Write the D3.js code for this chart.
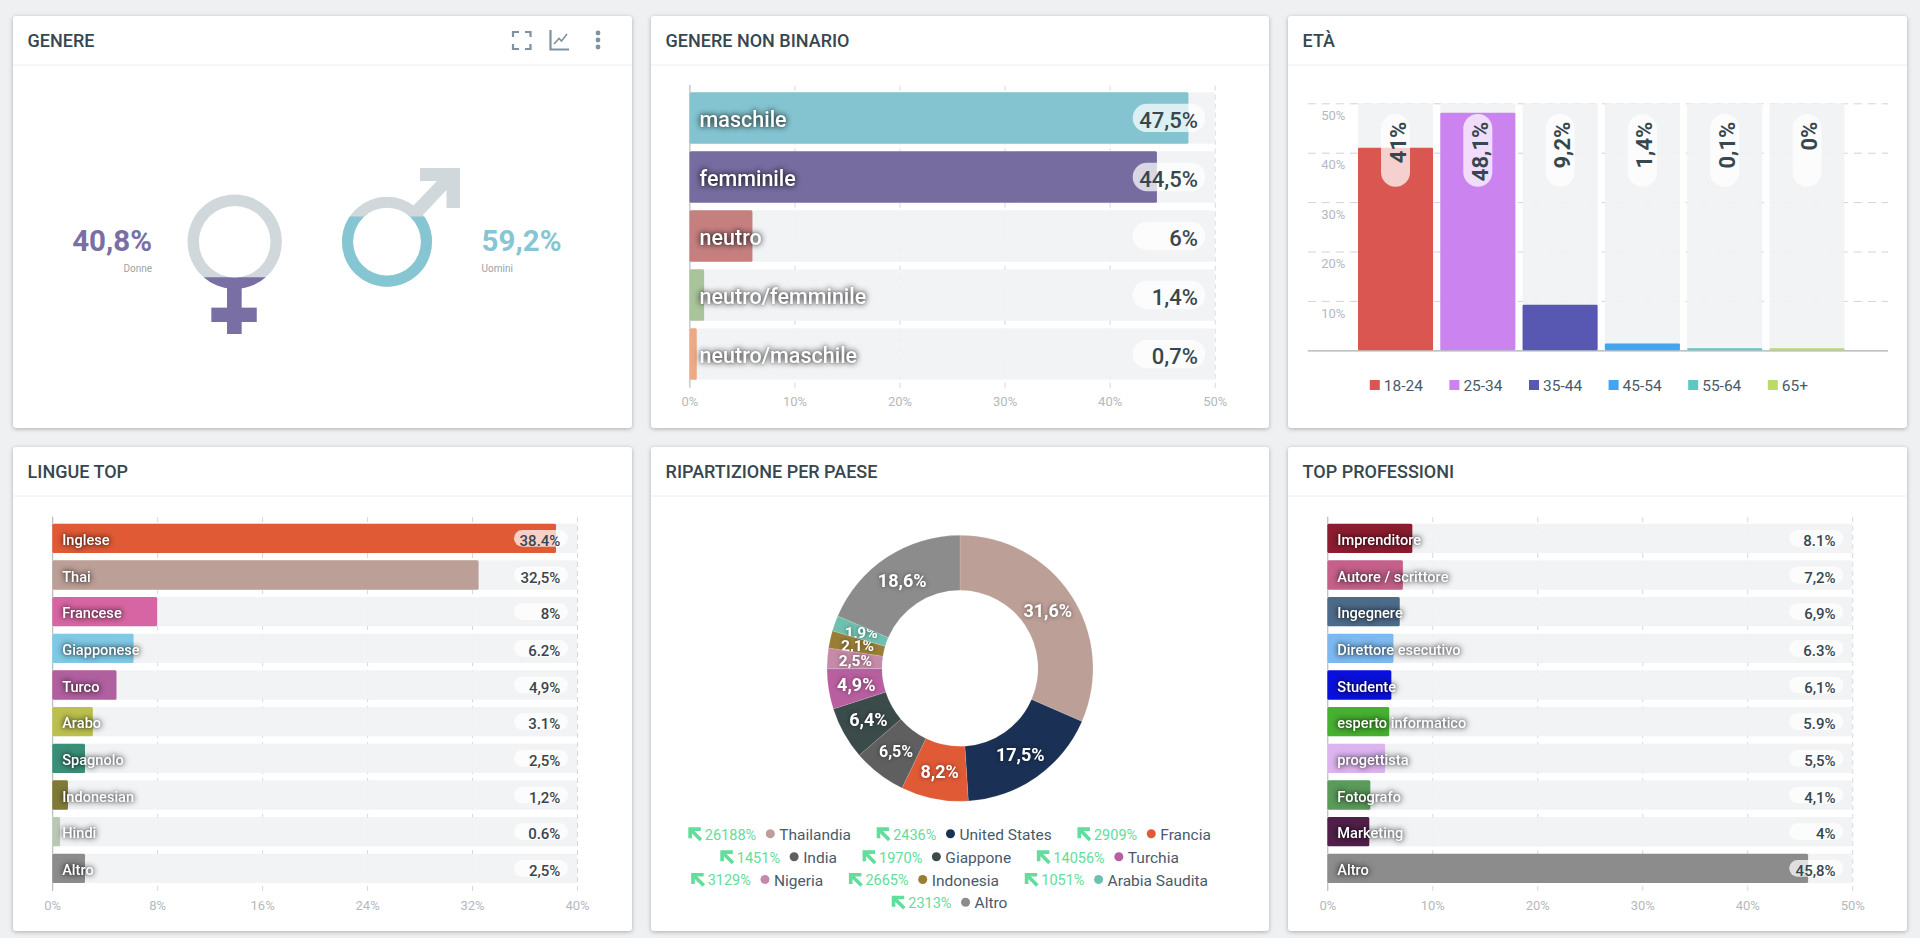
<!DOCTYPE html>
<html><head><meta charset="utf-8">
<script src="https://cdn.jsdelivr.net/npm/d3@7"></script>
<style>
html,body{margin:0;padding:0;background:#eef0f2;overflow:hidden}
svg{display:block}
text{font-family:Roboto,sans-serif}
.title{font-size:18px;font-weight:500;fill:#37474f}
.tick text{font-family:Roboto,sans-serif;fill:#b4b9bd;font-size:13px}
.shadow{filter:drop-shadow(0 0 3px rgba(0,0,0,.8)) drop-shadow(0 0 1px rgba(0,0,0,.3))}
.soft{filter:drop-shadow(0 0 2px rgba(0,0,0,.5))}
</style></head><body>
<svg id="c" width="1920" height="938"></svg>
<script>
// ---------- data ----------
const genderLabels = ["Donne","Uomini"];
const genderValues = [40.8,59.2];
const genderText = ["40,8%","59,2%"];

const nonBinaryCats = ["maschile","femminile","neutro","neutro/femminile","neutro/maschile"];
const nonBinaryVals = [47.5,44.5,6,1.4,0.7];
const nonBinaryText = ["47,5%","44,5%","6%","1,4%","0,7%"];
const nonBinaryColors = ["#83c4d0","#766ca0","#c57f7f","#a9c39b","#eda884"];
const nonBinaryTicks = [0,10,20,30,40,50];

const ageCats = ["18-24","25-34","35-44","45-54","55-64","65+"];
const ageVals = [41,48.1,9.2,1.4,0.1,0];
const ageText = ["41%","48,1%","9,2%","1,4%","0,1%","0%"];
const ageColors = ["#d95750","#cb84ef","#5858b2","#42a5f0","#5cc8c0","#bcd96a"];
const ageTicks = [10,20,30,40,50];

const langCats = ["Inglese","Thai","Francese","Giapponese","Turco","Arabo","Spagnolo","Indonesian","Hindi","Altro"];
const langVals = [38.4,32.5,8,6.2,4.9,3.1,2.5,1.2,0.6,2.5];
const langText = ["38.4%","32,5%","8%","6.2%","4,9%","3.1%","2,5%","1,2%","0.6%","2,5%"];
const langColors = ["#e05a36","#bc9f97","#d765a3","#7fc8e6","#b05f9f","#bcc04e","#3a8f78","#807a38","#b9c8b4","#8c8c8c"];
const langTicks = [0,8,16,24,32,40];

const countryCats = ["Thailandia","United States","Francia","India","Giappone","Turchia","Nigeria","Indonesia","Arabia Saudita","Altro"];
const countryVals = [31.6,17.5,8.2,6.5,6.4,4.9,2.5,2.1,1.9,18.6];
const countryText = ["31,6%","17,5%","8,2%","6,5%","6,4%","4,9%","2,5%","2,1%","1,9%","18,6%"];
const countryGrowth = ["26188%","2436%","2909%","1451%","1970%","14056%","3129%","2665%","1051%","2313%"];
const countryColors = ["#bc9f97","#1a3054","#e05a36","#5f5f5f","#3a4b4a","#b85f9f","#c58aa8","#9a7e38","#6fc0b0","#8c8c8c"];

const jobCats = ["Imprenditore","Autore / scrittore","Ingegnere","Direttore esecutivo","Studente","esperto informatico","progettista","Fotografo","Marketing","Altro"];
const jobVals = [8.1,7.2,6.9,6.3,6.1,5.9,5.5,4.1,4,45.8];
const jobText = ["8.1%","7,2%","6,9%","6.3%","6,1%","5.9%","5,5%","4,1%","4%","45,8%"];
const jobColors = ["#8c1c30","#c4608a","#4c6b8a","#7db9f0","#0a10dc","#46b030","#dcb4f0","#5a9a5a","#50204a","#8c8c8c"];
const jobTicks = [0,10,20,30,40,50];

const cardTitles = ["GENERE","GENERE NON BINARIO","ETÀ","LINGUE TOP","RIPARTIZIONE PER PAESE","TOP PROFESSIONI"];

// ---------- shell ----------
const svg = d3.select("#c");
const defs = svg.append("defs");
const colX = [[13,632],[651,1269],[1288,1907]];
const rowY = [[16,428,65],[447,931,496]];
const INK = "#37474f";
cardTitles.forEach((t,i)=>{
  const [x0,x1] = colX[i%3], [y0,y1,yh] = rowY[Math.floor(i/3)];
  svg.append("rect").attr("x",x0).attr("y",y0).attr("width",x1-x0).attr("height",y1-y0).attr("rx",3)
     .attr("fill","#fff").style("filter","drop-shadow(0 1px 2px rgba(0,0,0,.28))");
  svg.append("line").attr("x1",x0).attr("x2",x1).attr("y1",yh).attr("y2",yh).attr("stroke","#eceeef");
  svg.append("text").attr("class","title").attr("x",x0+14.6).attr("y",y0+31.3).text(t);
});

// ---------- header icons ----------
const icon = svg.append("g").attr("fill","none").attr("stroke","#7f929f").attr("stroke-width",2.2);
icon.append("path").attr("d","M513,37V32H519M525,32H530.5V37M530.5,44V49H525M519,49H513V44");
icon.append("path").attr("d","M550.5,30V49.5H569");
icon.append("path").attr("d","M554,44L559,38.5L561.5,41L567,34").attr("stroke-width",1.6);
[33,40,47].forEach(y=>svg.append("circle").attr("cx",598).attr("cy",y).attr("r",2.4).attr("fill","#7f929f"));

// ---------- gender symbols ----------
const ringArc = d3.arc().startAngle(0).endAngle(2*Math.PI);
function symbol(id,top,bottom,value,color,draw){
  const level = d3.scaleLinear().domain([0,100]).range([bottom,top]);
  const y = level(value);
  defs.append("clipPath").attr("id",id).append("rect").attr("x",0).attr("y",y).attr("width",640).attr("height",bottom-y);
  draw(svg.append("g").attr("fill","#d0d8db"));
  draw(svg.append("g").attr("fill",color).attr("clip-path",`url(#${id})`));
}
symbol("fem",195,334,genderValues[0],"#7a6fa5",g=>{
  g.append("path").attr("transform","translate(234.7,241.7)").attr("d",ringArc({innerRadius:35.8,outerRadius:47.2}));
  g.append("rect").attr("x",227).attr("y",285).attr("width",14.6).attr("height",49);
  g.append("rect").attr("x",211.4).attr("y",307.7).attr("width",45.3).attr("height",14.3);
});
symbol("mal",168,287,genderValues[1],"#86c6d2",g=>{
  g.append("path").attr("transform","translate(387,241.7)").attr("d",ringArc({innerRadius:34,outerRadius:45}));
  g.append("path").attr("d","M420,168H460V208H446.5V190L422,216L413,206L437,181H420Z");
});
const bigText=(x,a,c,t)=>svg.append("text").attr("x",x).attr("y",250.7).attr("text-anchor",a).attr("fill",c)
  .style("font-size","29.5px").style("font-weight",700).text(t);
const smallText=(x,a,t)=>svg.append("text").attr("x",x).attr("y",271.7).attr("text-anchor",a).attr("fill","#9aa3a8")
  .style("font-size","10px").text(t);
bigText(152,"end","#7a6fa5",genderText[0]); smallText(152,"end",genderLabels[0]);
bigText(481.6,"start","#86c6d2",genderText[1]); smallText(481.6,"start",genderLabels[1]);

// ---------- horizontal bar charts ----------
function hbars(o){
  const x = d3.scaleLinear().domain(o.domain).range([o.x0,o.x1]);
  const y = d3.scaleBand().domain(o.cats).range([o.top,o.bottom]).paddingInner(o.pad);
  const g = svg.append("g");
  const grid = g.append("g").attr("transform",`translate(0,${o.axisBottom})`)
    .call(d3.axisBottom(x).tickValues(o.ticks).tickSize(-(o.axisBottom-o.axisTop)).tickFormat(""));
  grid.select(".domain").remove();
  grid.selectAll("line").attr("stroke",d=>d===0?"#a9aeb2":"#d5d8da").attr("stroke-dasharray",d=>d===0?null:"5 4");
  const lab = g.append("g").attr("transform",`translate(0,${o.tickY})`)
    .call(d3.axisBottom(x).tickValues(o.ticks).tickSize(0).tickFormat(d=>d+"%"));
  lab.select(".domain").remove();
  lab.selectAll("text").attr("y",0).attr("dy",0);
  g.selectAll(".track").data(o.cats).join("rect").attr("x",o.x0).attr("y",d=>y(d))
    .attr("width",o.x1-o.x0).attr("height",y.bandwidth()).attr("fill","rgba(241,242,244,.9)");
  g.selectAll(".bar").data(o.vals).join("rect").attr("x",o.x0).attr("y",(d,i)=>y(o.cats[i]))
    .attr("width",d=>x(d)-o.x0).attr("height",y.bandwidth()).attr("rx",1.5).attr("fill",(d,i)=>o.colors[i]);
  g.selectAll(".pill").data(o.cats).join("rect").attr("x",o.x1-o.pillR-o.pillW)
    .attr("y",d=>y(d)+y.bandwidth()/2-o.pillH/2+o.pillDy).attr("width",o.pillW).attr("height",o.pillH)
    .attr("rx",o.pillH/2).attr("fill","rgba(255,255,255,.72)");
  g.selectAll(".lab").data(o.cats).join("text").attr("class","shadow").attr("x",o.x0+o.labX)
    .attr("y",d=>y(d)+y.bandwidth()/2+o.labDy).attr("fill","#fff")
    .style("font-size",o.fs+"px").style("font-weight",500).text(d=>d);
  g.selectAll(".val").data(o.text).join("text").attr("x",o.x1-o.valR).attr("text-anchor","end")
    .attr("y",(d,i)=>y(o.cats[i])+y.bandwidth()/2+o.valDy).attr("fill",INK)
    .style("font-size",o.vfs+"px").style("font-weight",500).text(d=>d);
}
const lower = {top:523.7,bottom:883,pad:.2,axisTop:516.7,axisBottom:891,tickY:909.5,labX:10,labDy:6.8,fs:14.6,vfs:15,
  pillW:54,pillH:16.7,pillR:9,pillDy:0,valR:16.6,valDy:7.5};
hbars({cats:nonBinaryCats,vals:nonBinaryVals,text:nonBinaryText,colors:nonBinaryColors,ticks:nonBinaryTicks,domain:[0,50],
  x0:689.4,x1:1214.7,top:92.3,bottom:379.7,pad:.13,axisTop:85,axisBottom:387.7,tickY:406,labX:10.2,labDy:8.7,fs:21.5,vfs:22,
  pillW:72.6,pillH:28.3,pillR:9.4,pillDy:0,valR:16.7,valDy:9.7});
hbars({...lower,cats:langCats,vals:langVals,text:langText,colors:langColors,ticks:langTicks,domain:[0,40],x0:52.2,x1:577});
hbars({...lower,cats:jobCats,vals:jobVals,text:jobText,colors:jobColors,ticks:jobTicks,domain:[0,50],x0:1327.3,x1:1852.2});

// ---------- age columns ----------
(function(){
  const y = d3.scaleLinear().domain([0,50]).range([350.3,103.3]);
  const x = d3.scaleBand().domain(ageCats).range([1358,1844.5]).paddingInner(.088);
  const g = svg.append("g");
  const grid = g.append("g").attr("transform","translate(1307.8,0)")
    .call(d3.axisLeft(y).tickValues(ageTicks).tickSize(-580.2).tickFormat(""));
  grid.select(".domain").remove();
  grid.selectAll("line").attr("stroke","#d0d3d5").attr("stroke-dasharray","8 6");
  const lab = g.append("g").attr("transform","translate(1345.3,0)")
    .call(d3.axisLeft(y).tickValues(ageTicks).tickSize(0).tickPadding(0).tickFormat(d=>d+"%"));
  lab.select(".domain").remove();
  lab.selectAll("text").attr("y",12).attr("dy",".32em").style("text-anchor","end");
  g.selectAll(".track").data(ageCats).join("rect").attr("x",d=>x(d)).attr("y",y(50))
    .attr("width",x.bandwidth()).attr("height",y(0)-y(50)).attr("fill","rgba(241,242,244,.9)");
  g.append("line").attr("x1",1307.8).attr("x2",1888).attr("y1",y(0)+.5).attr("y2",y(0)+.5).attr("stroke","#a9aeb2").attr("stroke-width",1.2);
  g.selectAll(".bar").data(ageVals).join("rect").attr("x",(d,i)=>x(ageCats[i]))
    .attr("y",d=>Math.min(y(d),y(0)-2)).attr("width",x.bandwidth()).attr("height",d=>Math.max(y(0)-y(d),2))
    .attr("rx",1).attr("fill",(d,i)=>ageColors[i]);
  g.selectAll(".pill").data(ageCats).join("rect").attr("x",d=>x(d)+x.bandwidth()/2-14.5).attr("y",114)
    .attr("width",29).attr("height",72.7).attr("rx",14.5).attr("fill","rgba(255,255,255,.72)");
  g.selectAll(".val").data(ageText).join("text")
    .attr("transform",(d,i)=>`translate(${x(ageCats[i])+x.bandwidth()/2+10},121.7) rotate(-90)`)
    .attr("text-anchor","end").attr("fill",INK).style("font-size","22px").style("font-weight",700).text(d=>d);
  const lx = d3.scalePoint().domain(ageCats).range([1369.8,1767.8]);
  const leg = g.selectAll(".lg").data(ageCats).join("g").attr("transform",d=>`translate(${lx(d)},0)`);
  leg.append("rect").attr("y",380).attr("width",10).attr("height",10).attr("fill",(d,i)=>ageColors[i]);
  leg.append("text").attr("x",14).attr("y",390.7).attr("fill","#4a5a6a").style("font-size","15.5px").text(d=>d);
})();

// ---------- donut ----------
(function(){
  const cx=960, cy=668.3;
  const pie = d3.pie().sort(null).value((d,i)=>countryVals[i]);
  const arcs = pie(countryCats);
  const arc = d3.arc().innerRadius(78).outerRadius(133);
  const labArc = d3.arc().innerRadius(105).outerRadius(105);
  const g = svg.append("g").attr("transform",`translate(${cx},${cy})`);
  g.selectAll(".s").data(arcs).join("path").attr("d",arc).attr("fill",(d,i)=>countryColors[i])
    .attr("stroke","rgba(255,255,255,.25)").attr("stroke-width",.5);
  arcs.forEach((a,i)=>{
    defs.append("clipPath").attr("id","sl"+i).append("path").attr("d",arc(a));
    const [px,py] = labArc.centroid(a);
    const fs = countryVals[i]<3 ? 15.5 : (countryVals[i]===6.5?16:18);
    g.append("g").attr("clip-path",`url(#sl${i})`).append("text").attr("class","soft").attr("x",px).attr("y",py)
      .attr("dy",".36em").attr("text-anchor","middle").attr("fill","#fff")
      .style("font-size",fs+"px").style("font-weight",700).text(countryText[i]);
  });

  // legend, wrapped in rows and centred like the reference
  const rows=[[0,1,2],[3,4,5],[6,7,8],[9]], rowYs=[834.3,857.3,880,902.7], legendCx=949.6;
  const lg = svg.append("g");
  const arrowW=13.5, gapA=3, gapT=9.6, dotD=9, gapD=4.5, gapI=25.7;
  rows.forEach((row,r)=>{
    const y=rowYs[r];
    const items=row.map(i=>{
      const gi=lg.append("g");
      const t1=gi.append("text").attr("y",y+5.2).attr("fill","#62dd9b").style("font-size","14.5px").text(countryGrowth[i]);
      const t2=gi.append("text").attr("y",y+5.6).attr("fill","#4a5a6a").style("font-size","15.5px").text(countryCats[i]);
      const w1=t1.node().getComputedTextLength(), w2=t2.node().getComputedTextLength();
      return {i,gi,t1,t2,w1,w2,w:arrowW+gapA+w1+gapT+dotD+gapD+w2};
    });
    const total=d3.sum(items,d=>d.w)+gapI*(items.length-1);
    let px=legendCx-total/2;
    items.forEach(it=>{
      it.gi.append("path").attr("transform",`translate(${px},${y-7})`)
        .attr("d","M1.8,11V1.8H12.5M1.8,1.8L12.6,12.6").attr("fill","none").attr("stroke","#62dd9b").attr("stroke-width",3.6);
      it.t1.attr("x",px+arrowW+gapA);
      const dx=px+arrowW+gapA+it.w1+gapT;
      it.gi.append("circle").attr("cx",dx+dotD/2).attr("cy",y-.5).attr("r",dotD/2).attr("fill",countryColors[it.i]);
      it.t2.attr("x",dx+dotD+gapD);
      px+=it.w+gapI;
    });
  });
})();
</script></body></html>
